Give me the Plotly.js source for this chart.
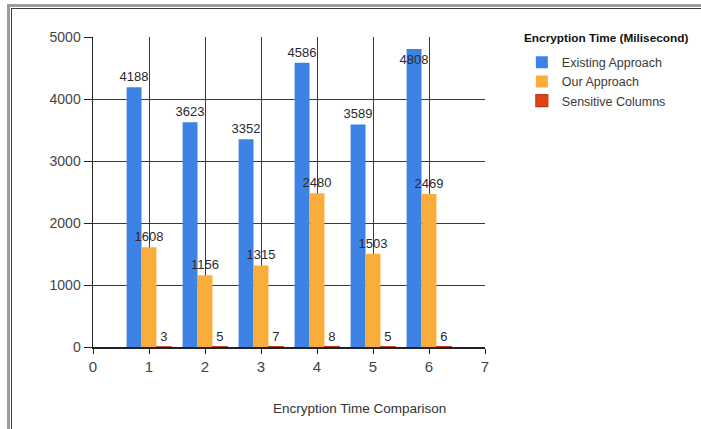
<!DOCTYPE html>
<html>
<head>
<meta charset="utf-8">
<script src="https://cdn.plot.ly/plotly-3.0.1.min.js"></script>
<style>
html,body{margin:0;padding:0;background:#fff;overflow:hidden;}
#chart{position:absolute;left:0;top:0;width:701px;height:429px;}
#frame1{position:absolute;left:7px;top:4px;width:800px;height:600px;border-top:3px solid #9c9c9c;border-left:3px solid #9c9c9c;pointer-events:none;}
#frame2{position:absolute;left:11px;top:8px;width:800px;height:600px;border-top:1.5px solid #3a3a3a;border-left:1.5px solid #3a3a3a;pointer-events:none;}
</style>
</head>
<body>
<div id="chart"></div>
<div id="frame1"></div>
<div id="frame2"></div>
<script>
const categories = [1, 2, 3, 4, 5, 6];
const existingApproach = [4188, 3623, 3352, 4586, 3589, 4808];
const ourApproach = [1608, 1156, 1315, 2480, 1503, 2469];
const sensitiveColumns = [3, 5, 7, 8, 5, 6];
const seriesNames = ['Existing Approach', 'Our Approach', 'Sensitive Columns'];
const legendTitle = 'Encryption Time (Milisecond)';
const xTitle = 'Encryption Time Comparison';
const xTicks = [0, 1, 2, 3, 4, 5, 6, 7];
const yTicks = [0, 1000, 2000, 3000, 4000, 5000];

const FONT = '"Liberation Sans", Arial, sans-serif';
const txtColor = '#2a2a2a';

function positions(vals, limit) {
  return vals.map(v => v > limit ? 'inside' : 'outside');
}

const common = {
  type: 'bar',
  x: categories,
  texttemplate: '%{y}',
  textangle: 0,
  textfont: {family: FONT, size: 13, color: txtColor},
  insidetextfont: {family: FONT, size: 13, color: txtColor},
  outsidetextfont: {family: FONT, size: 13, color: txtColor},
  insidetextanchor: 'end',
  constraintext: 'none',
  cliponaxis: false,
  hoverinfo: 'x+y+name'
};

const traces = [
  Object.assign({}, common, {
    name: seriesNames[0], y: existingApproach,
    textposition: positions(existingApproach, 4700),
    marker: {color: '#3d83e6'}
  }),
  Object.assign({}, common, {
    name: seriesNames[1], y: ourApproach,
    textposition: positions(ourApproach, 4700),
    marker: {color: '#f9ae3c'}
  }),
  Object.assign({}, common, {
    name: seriesNames[2], y: sensitiveColumns,
    textposition: positions(sensitiveColumns, 4700),
    marker: {color: '#dd4412', line: {color: '#c0391a', width: 1.2}}
  })
];

const layout = {
  width: 701, height: 429,
  margin: {l: 93, r: 216, t: 37, b: 82, autoexpand: false},
  paper_bgcolor: '#fff', plot_bgcolor: '#fff',
  barmode: 'group', bargap: 0.2, bargroupgap: 0,
  font: {family: FONT, color: txtColor},
  showlegend: true,
  legend: {
    x: 1.094, xanchor: 'left', y: 0.966, yanchor: 'top',
    font: {family: FONT, size: 12.5, color: '#3a3a3a'},
    bgcolor: 'rgba(0,0,0,0)', traceorder: 'normal'
  },
  xaxis: {
    range: [0, 7], tickvals: xTicks, ticktext: xTicks.map(String),
    showgrid: true, gridcolor: '#3a3a3a', gridwidth: 1,
    zeroline: false, showline: true, linecolor: '#222', linewidth: 1.5,
    mirror: false, ticks: 'outside', ticklen: 5, tickcolor: '#222',
    tickfont: {family: FONT, size: 15, color: '#444'},
    fixedrange: true
  },
  yaxis: {
    range: [0, 5000], tickvals: yTicks, ticktext: yTicks.map(String),
    showgrid: true, gridcolor: '#3a3a3a', gridwidth: 1,
    zeroline: false, showline: true, linecolor: '#222', linewidth: 1.5,
    ticks: 'outside', ticklen: 8, tickcolor: '#222',
    tickfont: {family: FONT, size: 14, color: '#444'},
    fixedrange: true
  },
  annotations: [{
    text: xTitle, xref: 'paper', yref: 'paper',
    x: 0.681, y: -0.197, xanchor: 'center', yanchor: 'middle',
    showarrow: false, font: {family: FONT, size: 13.5, color: '#333'}
  }, {
    text: '<b>' + legendTitle + '</b>', xref: 'paper', yref: 'paper',
    x: 1.094, y: 0.997, xanchor: 'left', yanchor: 'middle',
    showarrow: false, font: {family: FONT, size: 11.8, color: '#111'}
  }]
};

Plotly.newPlot('chart', traces, layout, {displayModeBar: false, staticPlot: true});
</script>
</body>
</html>
